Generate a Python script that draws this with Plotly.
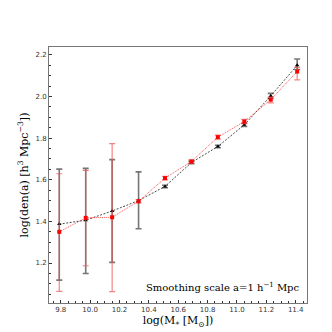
import plotly.graph_objects as go

# stellar mass bins
log_mass = [9.79, 9.97, 10.15, 10.33, 10.51, 10.69, 10.87, 11.05, 11.23, 11.41]

# black series (triangles)
den_black = [1.387, 1.406, 1.450, 1.500, 1.568, 1.683, 1.760, 1.864, 2.003, 2.150]
err_black_up = [0.264, 0.249, 0.247, 0.138, 0.006, 0.006, 0.006, 0.008, 0.012, 0.030]
err_black_dn = [0.269, 0.256, 0.247, 0.135, 0.006, 0.006, 0.006, 0.008, 0.012, 0.020]

# red series (squares)
den_red = [1.350, 1.417, 1.420, 1.497, 1.608, 1.688, 1.805, 1.880, 1.985, 2.120]
err_red_up = [0.279, 0.228, 0.354, 0.008, 0.008, 0.008, 0.010, 0.010, 0.012, 0.020]
err_red_dn = [0.286, 0.230, 0.357, 0.008, 0.008, 0.008, 0.010, 0.010, 0.015, 0.040]

fig = go.Figure()

fig.add_trace(go.Scatter(
    x=log_mass, y=den_black, mode='lines+markers',
    line=dict(color='black', width=0.7, dash='2px,1.5px'),
    marker=dict(symbol='triangle-up', size=4, color='black'),
    error_y=dict(type='data', symmetric=False, array=err_black_up, arrayminus=err_black_dn,
                 color='rgba(60,60,60,0.7)', thickness=1.6, width=3),
))

fig.add_trace(go.Scatter(
    x=log_mass, y=den_red, mode='lines+markers',
    line=dict(color='red', width=0.7, dash='1px,1px'),
    marker=dict(symbol='square', size=4, color='red'),
    error_y=dict(type='data', symmetric=False, array=err_red_up, arrayminus=err_red_dn,
                 color='rgba(240,80,80,0.7)', thickness=1.2, width=3),
))

fig.add_annotation(
    x=0.98, y=0.03, xref='paper', yref='paper', xanchor='right', yanchor='bottom',
    text='Smoothing scale a=1 h<sup>−1</sup> Mpc', showarrow=False,
    font=dict(family='DejaVu Serif', size=10, color='black'),
)

axis_common = dict(
    showline=True, linecolor='#777777', linewidth=1, mirror=True,
    ticks='inside', ticklen=3, tickcolor='#333333', showgrid=False, zeroline=False,
    tickfont=dict(family='DejaVu Sans', size=7, color='#333333'),
    tickformat='.1f',
    minor=dict(ticks='inside', ticklen=2, tickcolor='#333333', dtick=0.05),
)

fig.update_layout(
    width=332, height=332, showlegend=False,
    plot_bgcolor='white', paper_bgcolor='white',
    margin=dict(l=41, r=33, t=39, b=37),
    xaxis=dict(range=[9.72, 11.477], dtick=0.2, tick0=9.8,
               title=dict(text='log(M<sub>*</sub> [M<sub>⊙</sub>])', standoff=2,
                          font=dict(family='DejaVu Serif', size=11, color='black')),
               **axis_common),
    yaxis=dict(range=[1.008, 2.238], dtick=0.2, tick0=1.2,
               title=dict(text='log(den(a) [h<sup>3</sup> Mpc<sup>−3</sup>])', standoff=4,
                          font=dict(family='DejaVu Serif', size=11, color='black')),
               **axis_common),
)

fig.write_html("out.html")
